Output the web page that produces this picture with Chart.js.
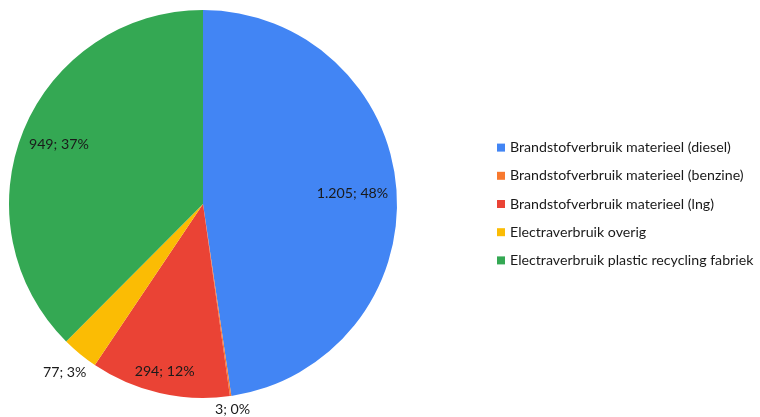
<!DOCTYPE html>
<html>
<head>
<meta charset="utf-8">
<script src="https://cdn.jsdelivr.net/npm/chart.js@4.4.0/dist/chart.umd.min.js"></script>
<style>
  html, body { margin: 0; padding: 0; background: #fff; }
  #wrap { width: 760px; height: 417px; }
</style>
</head>
<body>
<div id="wrap"><canvas id="pie"></canvas></div>
<script>
const categories = [
  "Brandstofverbruik materieel (diesel)",
  "Brandstofverbruik materieel (benzine)",
  "Brandstofverbruik materieel (lng)",
  "Electraverbruik overig",
  "Electraverbruik plastic recycling fabriek",
];
const values = [1205, 3, 294, 77, 949];
const colors = ["#4285F4", "#F8792E", "#EA4335", "#FBBC04", "#34A853"];

const FONT = "14.2px Lato";
const TEXT_COLOR = "#1a1a1a";

// percentages that add up to 100 (largest remainder)
function roundedShares(list) {
  const total = list.reduce((a, b) => a + b, 0);
  const raw = list.map((v) => (v / total) * 100);
  const out = raw.map(Math.floor);
  let left = 100 - out.reduce((a, b) => a + b, 0);
  const order = raw
    .map((r, i) => [r - Math.floor(r), i])
    .sort((a, b) => b[0] - a[0]);
  for (let k = 0; k < left; k++) out[order[k][1]] += 1;
  return out;
}
const shares = roundedShares(values);

function labelText(i) {
  return values[i].toLocaleString("nl-NL") + "; " + shares[i] + "%";
}

const sliceLabels = {
  id: "sliceLabels",
  afterDatasetsDraw(chart) {
    const ctx = chart.ctx;
    const meta = chart.getDatasetMeta(0);
    const total = values.reduce((a, b) => a + b, 0);
    ctx.save();
    ctx.font = FONT;
    ctx.fillStyle = TEXT_COLOR;
    ctx.textAlign = "center";
    ctx.textBaseline = "middle";
    meta.data.forEach((arc, i) => {
      const p = arc.getProps(["x", "y", "startAngle", "endAngle", "outerRadius"], true);
      const mid = (p.startAngle + p.endAngle) / 2;
      const dx = Math.cos(mid);
      const dy = Math.sin(mid);
      const text = labelText(i);
      const w = ctx.measureText(text).width;
      const h = 12;
      let d;
      if (values[i] / total > 0.05) {
        // push the box out until its far corner touches r - 8
        const R = p.outerRadius - 8;
        const b = Math.abs(dx) * w + Math.abs(dy) * h;
        const c = (w * w + h * h) / 4 - R * R;
        d = (-b + Math.sqrt(b * b - 4 * c)) / 2;
      } else {
        // outside: nearest corner just past the edge
        const R = p.outerRadius + 6;
        d = p.outerRadius;
        while (d < p.outerRadius + 80) {
          const nx = Math.max(0, Math.abs(dx) * d - w / 2);
          const ny = Math.max(0, Math.abs(dy) * d - h / 2);
          if (Math.hypot(nx, ny) >= R) break;
          d += 0.5;
        }
      }
      ctx.fillText(text, p.x + dx * d, p.y + dy * d);
    });
    ctx.restore();
  },
};

const sideLegend = {
  id: "sideLegend",
  afterDraw(chart) {
    const ctx = chart.ctx;
    const x0 = 497;
    const step = 28.2;
    const midY = 204;
    const top = midY - (step * (categories.length - 1)) / 2;
    ctx.save();
    ctx.font = FONT;
    ctx.textAlign = "left";
    ctx.textBaseline = "middle";
    chart.data.labels.forEach((label, i) => {
      const y = top + i * step;
      ctx.fillStyle = chart.data.datasets[0].backgroundColor[i];
      ctx.fillRect(x0, y - 4, 8, 8);
      ctx.fillStyle = TEXT_COLOR;
      ctx.fillText(label, x0 + 13, y);
    });
    ctx.restore();
  },
};

new Chart(document.getElementById("pie"), {
  type: "pie",
  data: {
    labels: categories,
    datasets: [
      {
        data: values,
        backgroundColor: colors,
        borderWidth: 0,
      },
    ],
  },
  options: {
    responsive: true,
    maintainAspectRatio: false,
    animation: false,
    layout: { padding: { left: 9, top: 10, bottom: 19, right: 363 } },
    plugins: {
      legend: { display: false },
      tooltip: { enabled: false },
    },
  },
  plugins: [sliceLabels, sideLegend],
});
</script>
</body>
</html>
